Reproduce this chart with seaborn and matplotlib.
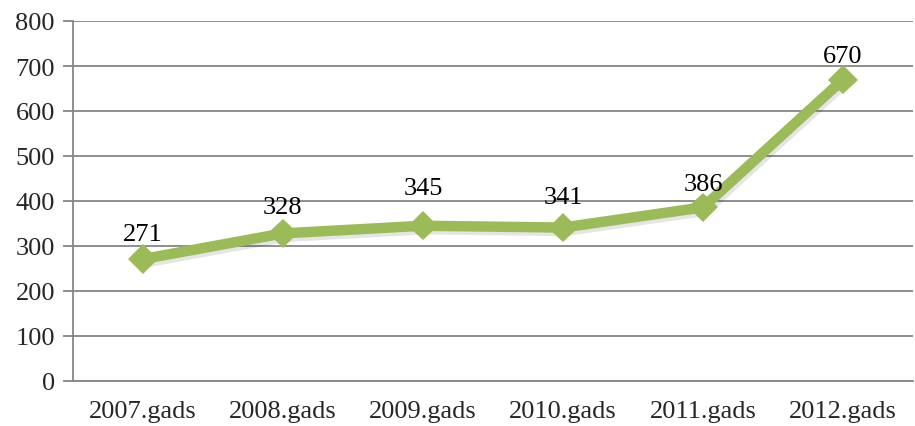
import matplotlib
matplotlib.use("Agg")
import matplotlib.pyplot as plt
import matplotlib.patheffects as pe
import seaborn as sns
import pandas as pd
import numpy as np

years = ["2007.gads", "2008.gads", "2009.gads", "2010.gads", "2011.gads", "2012.gads"]
values = [271, 328, 345, 341, 386, 670]
yticks = [0, 100, 200, 300, 400, 500, 600, 700, 800]

# label offsets (points) above each marker, as placed in the reference
label_offsets = [10, 11, 19, 14, 9, 9]

sns.set_theme(style="white")
plt.rcParams['font.family'] = ['Liberation Serif', 'DejaVu Serif']

df = pd.DataFrame({"year": years, "value": values})
df["pos"] = np.arange(len(years))

fig = plt.figure(figsize=(9.15, 4.27), dpi=100)
ax = fig.add_axes([73/915, 1-382/427, 840/915, 360/427])

green = "#9BBB59"
shadow = [pe.SimpleLineShadow(offset=(1.5, -2.5), shadow_color="#000000", alpha=0.10, rho=1.0),
          pe.Normal()]
sns.lineplot(data=df, x="pos", y="value", ax=ax, color=green, linewidth=7.5,
             marker="D", markersize=15, markeredgecolor=green, markeredgewidth=0,
             path_effects=shadow, zorder=3)

for x, v, off in zip(df["pos"], values, label_offsets):
    ax.annotate(str(v), (x, v), xytext=(0, off), textcoords="offset points",
                ha="center", va="bottom", fontsize=19, color="black")

ax.set_xlim(-0.5, len(years) - 0.5)
ax.set_ylim(0, 800)
ax.set_yticks(yticks)
ax.set_yticklabels([str(t) for t in yticks], fontsize=19)
ax.set_xticks(df["pos"])
ax.set_xticklabels(years, fontsize=19)
ax.set_xticks(np.arange(-0.5, len(years)), minor=True)
ax.tick_params(axis="x", which="major", length=0, pad=14)
ax.tick_params(axis="x", which="minor", length=6, width=1.3, color="#868686", direction="out")
ax.tick_params(axis="y", which="major", length=7, width=1.3, color="#868686", direction="out", pad=6, left=True)
ax.set_xlabel("")
ax.set_ylabel("")
ax.grid(axis="y", color="#868686", linewidth=1.3)
ax.set_axisbelow(True)
for s in ["top", "right"]:
    ax.spines[s].set_visible(False)
for s in ["left", "bottom"]:
    ax.spines[s].set_color("#868686")
    ax.spines[s].set_linewidth(1.3)

fig.savefig("out.png", dpi=100)
